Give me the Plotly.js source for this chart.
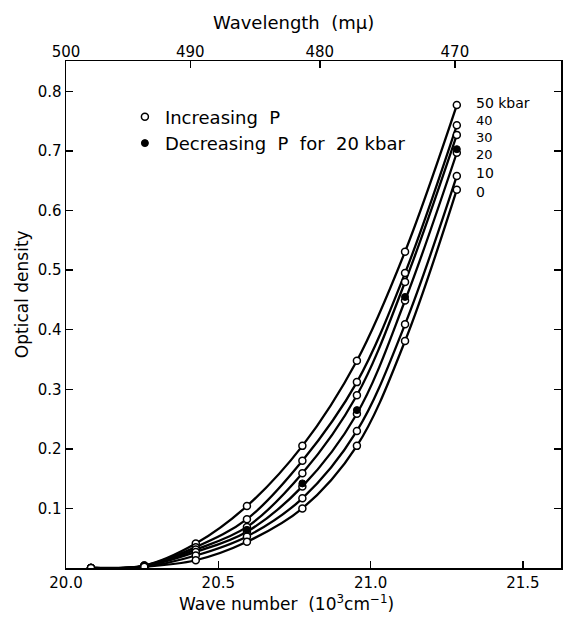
<!DOCTYPE html>
<html>
<head>
<meta charset="utf-8">
<script src="https://cdn.plot.ly/plotly-3.0.1.min.js"></script>
<style>
  html, body { margin: 0; padding: 0; background: #fff; }
  #chart { width: 563px; height: 618px; }
</style>
</head>
<body>
<div id="chart"></div>
<script>
// ---- data ----
const waveNumber = [20.082, 20.257, 20.426, 20.594, 20.776, 20.955, 21.113, 21.283]; // 10^3 cm^-1
const od50 = [0, 0.004, 0.041, 0.104, 0.205, 0.348, 0.531, 0.777];
const od40 = [0, 0.004, 0.035, 0.082, 0.180, 0.312, 0.495, 0.743];
const od30 = [0, 0.003, 0.031, 0.069, 0.159, 0.290, 0.480, 0.727];
const od20 = [0, 0.003, 0.027, 0.061, 0.137, 0.259, 0.449, 0.697];
const od10 = [0, 0.002, 0.021, 0.053, 0.117, 0.230, 0.409, 0.658];
const od0  = [0, 0.002, 0.013, 0.044, 0.100, 0.205, 0.381, 0.635];
// decreasing pressure, 20 kbar
const waveNumberDec = [20.594, 20.776, 20.955, 21.113, 21.283];
const od20Dec = [0.064, 0.142, 0.265, 0.455, 0.703];

const pressureLabels = ['50 kbar', '40', '30', '20', '10', '0'];
const seriesValues = [od50, od40, od30, od20, od10, od0];

const xTickVals = [20.0, 20.5, 21.0, 21.5];
const xTickText = ['20.0', '20.5', '21.0', '21.5'];
const yTickVals = [0.1, 0.2, 0.3, 0.4, 0.5, 0.6, 0.7, 0.8];
const yTickText = ['0.1', '0.2', '0.3', '0.4', '0.5', '0.6', '0.7', '0.8'];
const wavelengthTicks = [500, 490, 480, 470]; // m\u03bc

// ---- traces ----
const FONT = 'DejaVu Sans, Liberation Sans, sans-serif';
const traces = [];
seriesValues.forEach((vals) => {
  traces.push({
    x: waveNumber, y: vals, type: 'scatter', mode: 'lines',
    line: { color: '#000', width: 2.3, shape: 'spline', smoothing: 1 },
    showlegend: false, hoverinfo: 'skip', xaxis: 'x', yaxis: 'y'
  });
});
// open markers (increasing P)
const incX = [], incY = [];
seriesValues.forEach(vals => { vals.forEach((v, j) => { incX.push(waveNumber[j]); incY.push(v); }); });
traces.push({
  x: incX, y: incY, type: 'scatter', mode: 'markers', name: 'Increasing\u00a0 P',
  marker: { symbol: 'circle', size: 7, color: '#fff', line: { color: '#000', width: 1.5 } },
  xaxis: 'x', yaxis: 'y'
});
traces.push({
  x: waveNumberDec, y: od20Dec, type: 'scatter', mode: 'markers', name: 'Decreasing\u00a0 P\u00a0 for\u00a0 20 kbar',
  marker: { symbol: 'circle', size: 7, color: '#000', line: { color: '#000', width: 1 } },
  xaxis: 'x', yaxis: 'y'
});
// invisible trace to activate the top (wavelength) axis
traces.push({
  x: [waveNumber[0]], y: [0], type: 'scatter', mode: 'markers',
  marker: { opacity: 0 }, showlegend: false, hoverinfo: 'skip', xaxis: 'x2', yaxis: 'y'
});

// curve labels at right: 50 kbar, a stacked block 40/30/20, then 10 and 0
const labelFont = { family: FONT, size: 14, color: '#000' };
const annotations = [
  { x: 21.338, y: 0.781, text: pressureLabels[0], font: labelFont },
  { x: 21.338, y: 0.723, text: pressureLabels.slice(1, 4).join('<br>'),
    font: { family: FONT, size: 13, color: '#000' }, align: 'left' },
  { x: 21.338, y: 0.663, text: pressureLabels[4], font: labelFont },
  { x: 21.338, y: 0.631, text: pressureLabels[5], font: labelFont }
].map(a => Object.assign({ xref: 'x', yref: 'y', showarrow: false, xanchor: 'left', yanchor: 'middle' }, a));

annotations.push({
  x: 0.4586, y: 1.075, xref: 'paper', yref: 'paper', text: 'Wavelength\u00a0 (m\u03bc)', showarrow: false,
  xanchor: 'center', yanchor: 'middle', font: { family: FONT, size: 18, color: '#000' }
});
annotations.push({
  x: 0.446, y: -0.069, xref: 'paper', yref: 'paper', text: 'Wave number\u00a0 (10<sup>3</sup>cm<sup>\u22121</sup>)', showarrow: false,
  xanchor: 'center', yanchor: 'middle', font: { family: FONT, size: 17, color: '#000' }
});
annotations.push({
  x: -0.089, y: 0.54, xref: 'paper', yref: 'paper', text: 'Optical density', showarrow: false, textangle: -90,
  xanchor: 'center', yanchor: 'middle', font: { family: FONT, size: 17, color: '#000' }
});

const xRange = [20.0, 21.625];
const layout = {
  width: 563, height: 618,
  margin: { l: 66, r: 2, t: 61, b: 50 },
  paper_bgcolor: '#fff', plot_bgcolor: '#fff',
  font: { family: FONT, size: 15, color: '#000' },
  showlegend: true,
  legend: {
    x: 0.119, y: 0.926, xanchor: 'left', yanchor: 'top',
    bgcolor: 'rgba(0,0,0,0)', borderwidth: 0,
    font: { family: FONT, size: 18, color: '#000' },
    itemwidth: 30, tracegroupgap: 0
  },
  xaxis: {
    range: xRange, tickvals: xTickVals, ticktext: xTickText,
    ticks: 'inside', ticklen: 7, tickwidth: 1.5, tickcolor: '#000',
    showline: true, linecolor: '#000', linewidth: 1.5, mirror: true,
    showgrid: false, zeroline: false,
    tickfont: { family: FONT, size: 15, color: '#000' }
  },
  xaxis2: {
    overlaying: 'x', side: 'top', range: xRange,
    tickvals: wavelengthTicks.map(l => 1e4 / l), ticktext: wavelengthTicks.map(String),
    ticks: 'inside', ticklen: 7, tickwidth: 1.5, tickcolor: '#000',
    showline: false, showgrid: false, zeroline: false,
    tickfont: { family: FONT, size: 15, color: '#000' }
  },
  yaxis: {
    range: [0, 0.851], tickvals: yTickVals, ticktext: yTickText,
    ticks: 'inside', ticklen: 7, tickwidth: 1.5, tickcolor: '#000',
    showline: true, linecolor: '#000', linewidth: 1.5, mirror: 'ticks',
    showgrid: false, zeroline: false,
    tickfont: { family: FONT, size: 15, color: '#000' }
  },
  annotations: annotations
};

Plotly.newPlot('chart', traces, layout, { staticPlot: true, displayModeBar: false });
</script>
</body>
</html>
